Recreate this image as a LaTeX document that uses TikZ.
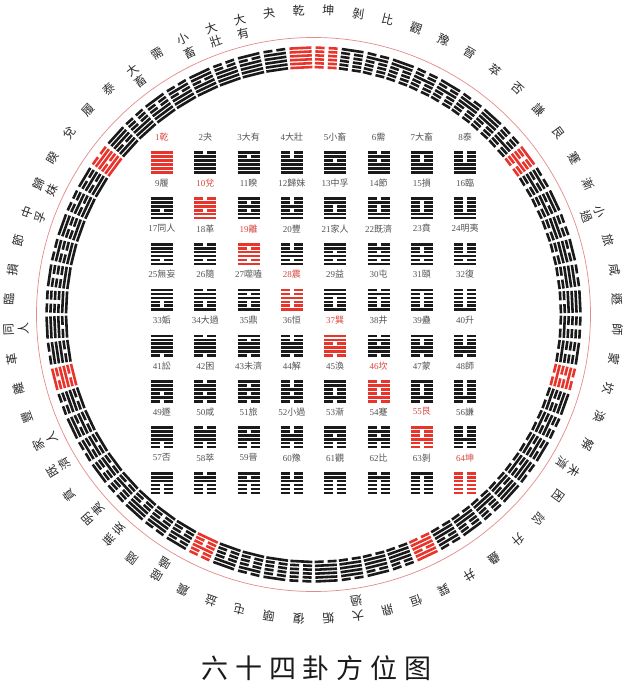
\documentclass[tikz,border=0pt]{standalone}
\usepackage{fontspec}
\setmainfont{Liberation Serif}
\newfontfamily\cjk{Noto Sans CJK TC}
\newfontfamily\titlefont[LetterSpace=25]{Noto Sans CJK SC}
\usetikzlibrary{positioning}

\definecolor{guared}{HTML}{E8342B}
\definecolor{guablack}{HTML}{1A1A1A}
\definecolor{labgray}{HTML}{555555}
\definecolor{labred}{HTML}{D9473F}
\definecolor{ringred}{HTML}{E58A8A}
\definecolor{ringtext}{HTML}{2B2B2B}

\tikzset{
  gualine/.style={line width=2.6pt},
  sqlabel/.style={font=\fontsize{9}{10}\selectfont, inner sep=0pt},
  ringlabel/.style={font=\cjk\fontsize{12}{14.5}\selectfont, text=ringtext,
    align=center, inner sep=0pt, anchor=north},
  titlelabel/.style={font=\titlefont\fontsize{27}{30}\selectfont, text=guablack, inner sep=0pt},
}

% stack a two-character name for the ring
\def\ringtext#1#2\endring{#1\ifx\relax#2\relax\else\\#2\fi}

% six lines of hexagram #1 (square order), colour #2, top line up
\newcommand\drawgua[2]{%
  \pgfmathtruncatemacro\guarow{div(#1-1,8)}%
  \pgfmathtruncatemacro\guacol{mod(#1-1,8)}%
  \foreach \lin in {1,...,6}{
    \pgfmathtruncatemacro\guatri{ifthenelse(\lin<4, 7-\guarow, 7-\guacol)}
    \pgfmathtruncatemacro\guapos{ifthenelse(\lin<4, 3-\lin, 6-\lin)}
    \pgfmathtruncatemacro\guayang{mod(div(\guatri,pow(2,\guapos)),2)}
    \pgfmathsetmacro\guay{(\lin-3.5)*3.9}
    \ifnum\guayang=1
      \draw[gualine, #2] (-11,\guay) -- (11,\guay);
    \else
      \draw[gualine, #2] (-11,\guay) -- (-2,\guay) (2,\guay) -- (11,\guay);
    \fi
  }}

\begin{document}
\begin{tikzpicture}[x=1pt, y=1pt]
  \fill[white] (-313.5,-375.5) rectangle (316.5,314.5);
  \useasboundingbox (-313.5,-375.5) rectangle (316.5,314.5);
  \coordinate (hub) at (0,0);
  \draw[ringred, line width=0.7pt] (hub) circle[radius=277];

  \foreach \n/\name in {1/乾, 2/夬, 3/大有, 4/大壯, 5/小畜, 6/需, 7/大畜, 8/泰,
      9/履, 10/兌, 11/睽, 12/歸妹, 13/中孚, 14/節, 15/損, 16/臨,
      17/同人, 18/革, 19/離, 20/豐, 21/家人, 22/既濟, 23/賁, 24/明夷,
      25/無妄, 26/隨, 27/噬嗑, 28/震, 29/益, 30/屯, 31/頤, 32/復,
      33/姤, 34/大過, 35/鼎, 36/恒, 37/巽, 38/井, 39/蠱, 40/升,
      41/訟, 42/困, 43/未濟, 44/解, 45/渙, 46/坎, 47/蒙, 48/師,
      49/遯, 50/咸, 51/旅, 52/小過, 53/漸, 54/蹇, 55/艮, 56/謙,
      57/否, 58/萃, 59/晉, 60/豫, 61/觀, 62/比, 63/剝, 64/坤}{
    \pgfmathtruncatemacro\isred{mod(\n-1,9)==0}
    \ifnum\isred=1 \def\guacolor{guared}\def\labcolor{labred}%
    \else \def\guacolor{guablack}\def\labcolor{labgray}\fi
    % square
    \pgfmathtruncatemacro\sqrow{div(\n-1,8)}
    \pgfmathtruncatemacro\sqcol{mod(\n-1,8)}
    \pgfmathsetmacro\sqx{-151.5+43.3*\sqcol}
    \pgfmathsetmacro\sqy{177.5-45.8*\sqrow}
    \node[sqlabel, text=\labcolor] (lab\n) at (\sqx,\sqy) {\n{\cjk\name}};
    \begin{scope}[shift={(\sqx,\sqy-25.5)}]
      \drawgua{\n}{\guacolor}
    \end{scope}
    % ring
    \pgfmathsetmacro\ang{ifthenelse(\n<33, 90+(\n-0.5)*5.625, 90-(64.5-\n)*5.625)}
    \begin{scope}[shift={(\ang:257)}, rotate=\ang-90]
      \drawgua{\n}{\guacolor}
    \end{scope}
    \node[ringlabel, rotate=\ang-90] (ring\n) at (\ang:310)
      {\expandafter\ringtext\name\endring};
  }

  \node[titlelabel] (title) at (3,-353.5) {六十四卦方位图};
\end{tikzpicture}
\end{document}
